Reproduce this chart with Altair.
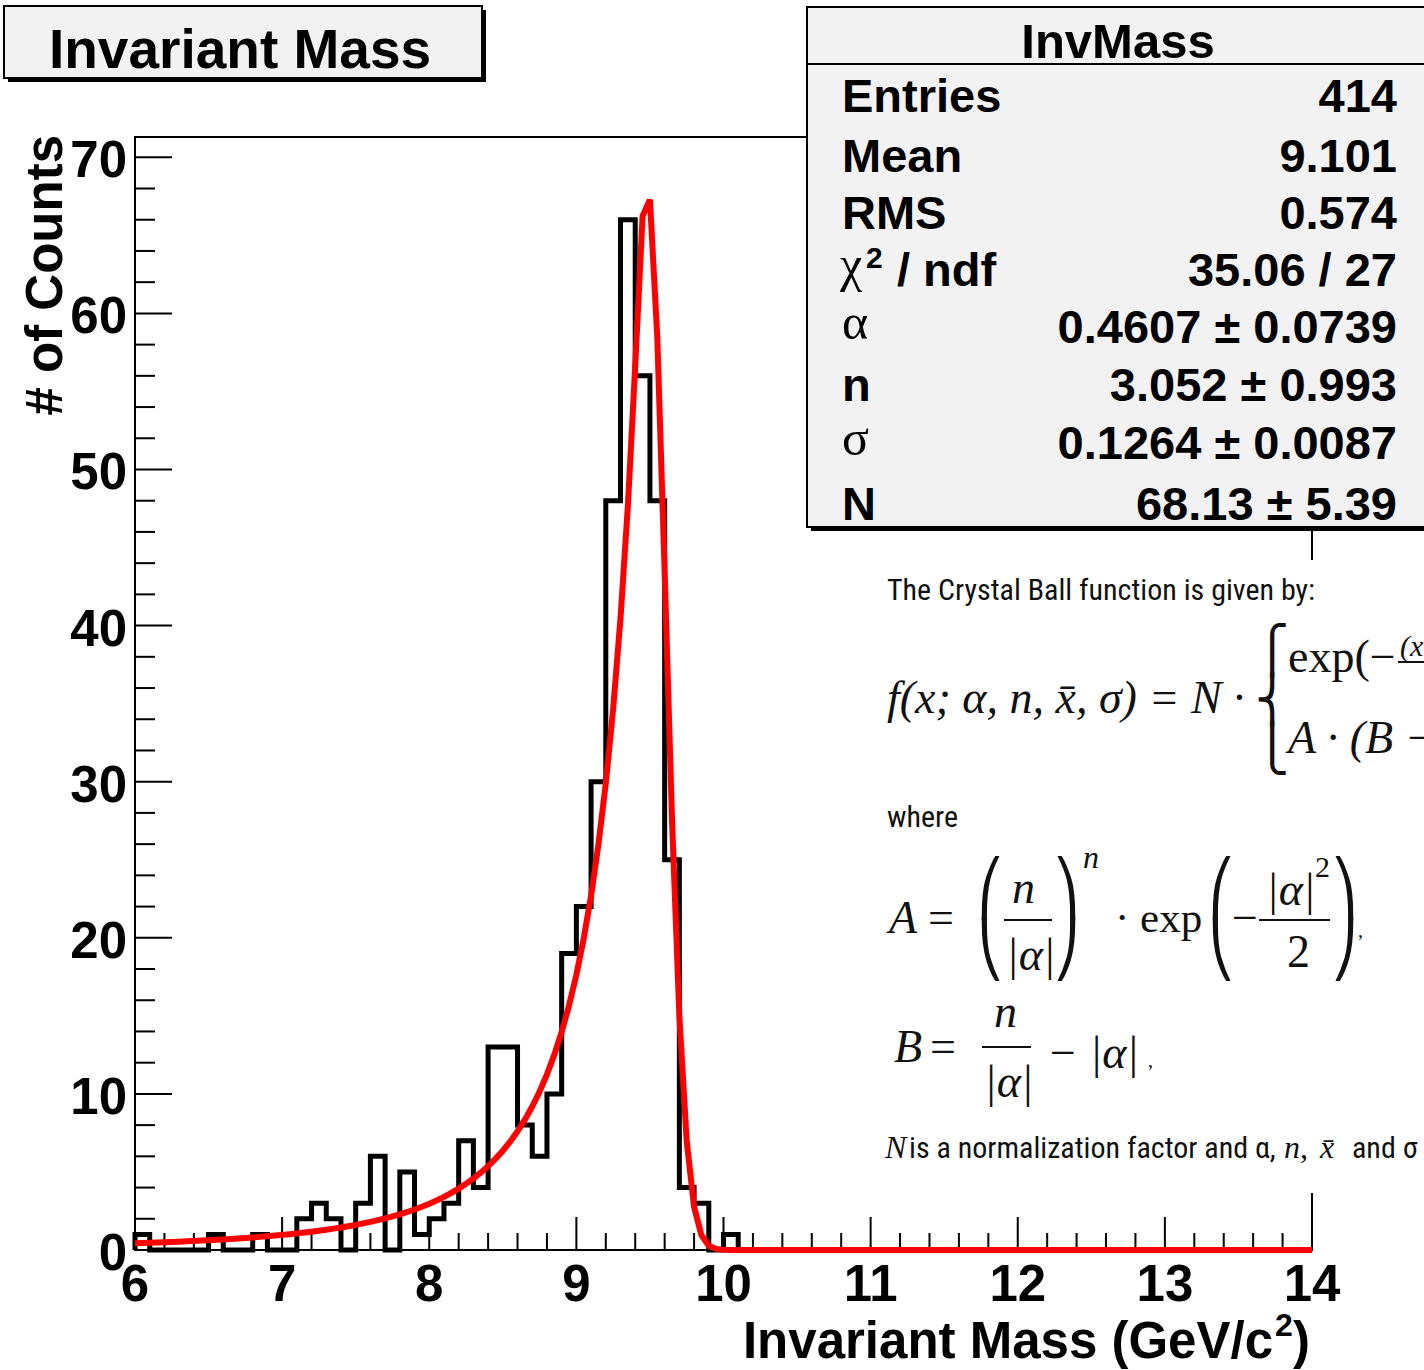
import altair as alt
import numpy as np
import pandas as pd

# ---------------------------------------------------------------- data
# Histogram of the invariant mass, 0.1 GeV/c^2 bins from 6 to 14
BIN_LOW = [round(6.0 + 0.1 * i, 1) for i in range(80)]
COUNTS = [
    1, 0, 0, 0, 0, 1, 0, 0, 1, 0,          # 6.0 - 6.9
    0, 2, 3, 2, 0, 3, 6, 0, 5, 1,          # 7.0 - 7.9
    2, 3, 7, 4, 13, 13, 8, 6, 10, 19,      # 8.0 - 8.9
    22, 30, 48, 66, 56, 48, 25, 4, 3, 0,   # 9.0 - 9.9
    1, 0, 0, 0, 0, 0, 0, 0, 0, 0,          # 10.0 - 10.9
    0, 0, 0, 0, 0, 0, 0, 0, 0, 0,          # 11.0 - 11.9
    0, 0, 0, 0, 0, 0, 0, 0, 0, 0,          # 12.0 - 12.9
    0, 0, 0, 0, 0, 0, 0, 0, 0, 0,          # 13.0 - 13.9
]
X_MAX = 14.0

# Crystal Ball fit parameters (from the fit result)
CB_ALPHA = 0.4607
CB_N = 3.052
CB_SIGMA = 0.1264
CB_NORM = 68.13
CB_MEAN = 9.48
CB_NPX = 161

# Statistics box
STAT_LABELS = ["Entries", "Mean", "RMS", "", "", "n", "", "N"]
STAT_VALUES = ["414", "9.101", "0.574", "35.06 / 27", "0.4607 \u00b1 0.0739",
               "3.052 \u00b1 0.993", "0.1264 \u00b1 0.0087", "68.13 \u00b1 5.39"]

# Axis ticks and labels
X_LABELS = list(range(6, 15))
X_MINOR = [round(6 + 0.2 * i, 1) for i in range(41) if i % 5]
Y_LABELS = list(range(0, 71, 10))
Y_MINOR = [v for v in range(2, 71, 2) if v % 10]
X_TITLE = "Invariant Mass (GeV/c"
Y_TITLE = "# of Counts"

# ---------------------------------------------------------------- layout
OX, OY = 135, 137          # page position of the plot frame's top-left corner
PW, PH = 1177, 1113        # frame size
SANS = "Liberation Sans, Arial, Helvetica, sans-serif"
SERIF = "Liberation Serif, Times New Roman, serif"
COND = "Roboto Condensed, Liberation Sans Narrow, DejaVu Sans Condensed, Liberation Sans, sans-serif"
PIECES = "DejaVu Sans"
AXIS_SIZE = 51
COND_SIZE = 30

X_SCALE = alt.Scale(domain=[6, 14], nice=False, zero=False)
Y_SCALE = alt.Scale(domain=[0, 71.3], nice=False, zero=False)

one = pd.DataFrame({"k": [0]})


def px(x):
    return x - OX


def py(y):
    return y - OY


def text(s, x, y, size, font=SANS, weight="normal", style="normal",
         align="left", baseline="alphabetic", color="black", angle=0):
    return alt.Chart(one).mark_text(
        text=s, font=font, fontSize=size, fontWeight=weight, fontStyle=style,
        align=align, baseline=baseline, color=color, angle=angle,
    ).encode(x=alt.value(px(x)), y=alt.value(py(y)))


def rect(x1, y1, x2, y2, fill, stroke=None, sw=0):
    kw = dict(fill=fill)
    if stroke:
        kw.update(stroke=stroke, strokeWidth=sw)
    return alt.Chart(one).mark_rect(**kw).encode(
        x=alt.value(px(x1)), x2=alt.value(px(x2)),
        y=alt.value(py(y1)), y2=alt.value(py(y2)))


def hline(x1, x2, y, sw=2, color="black"):
    return alt.Chart(one).mark_rule(color=color, strokeWidth=sw).encode(
        x=alt.value(px(x1)), x2=alt.value(px(x2)), y=alt.value(py(y)))


# ---------------------------------------------------------------- histogram
hist_x = [BIN_LOW[0]] + BIN_LOW + [X_MAX]
hist_y = [0] + COUNTS + [COUNTS[-1]]
hist_df = pd.DataFrame({"mass": hist_x, "count": hist_y, "order": range(len(hist_x))})

hist = alt.Chart(hist_df).mark_line(
    interpolate="step-after", color="black", strokeWidth=5, strokeJoin="miter"
).encode(
    x=alt.X("mass:Q", scale=X_SCALE, axis=None),
    y=alt.Y("count:Q", scale=Y_SCALE, axis=None),
    order="order:Q",
)

# ---------------------------------------------------------------- fit curve
cb_a = (CB_N / abs(CB_ALPHA)) ** CB_N * np.exp(-CB_ALPHA ** 2 / 2)
cb_b = CB_N / abs(CB_ALPHA) - abs(CB_ALPHA)
fx = np.linspace(6.0, X_MAX, CB_NPX)
ft = (fx - CB_MEAN) / CB_SIGMA
fy = np.where(ft > -CB_ALPHA, np.exp(-ft ** 2 / 2),
              cb_a * np.power(np.abs(cb_b - ft), -CB_N))
fit_df = pd.DataFrame({"mass": fx, "count": CB_NORM * fy})

fit = alt.Chart(fit_df).mark_line(color="#ff0000", strokeWidth=6).encode(
    x=alt.X("mass:Q", scale=X_SCALE, axis=None),
    y=alt.Y("count:Q", scale=Y_SCALE, axis=None),
)

# ---------------------------------------------------------------- axes: ticks inside the frame, labels, titles
def yticks(vals, length):
    return alt.Chart(pd.DataFrame({"v": vals})).mark_rule(color="black", strokeWidth=2).encode(
        y=alt.Y("v:Q", scale=Y_SCALE, axis=None), x=alt.value(0), x2=alt.value(length))


def xticks(vals, length):
    return alt.Chart(pd.DataFrame({"v": vals})).mark_rule(color="black", strokeWidth=2).encode(
        x=alt.X("v:Q", scale=X_SCALE, axis=None), y=alt.value(PH), y2=alt.value(PH - length))


ticks = [yticks(Y_LABELS, 37), yticks(Y_MINOR, 20), xticks(X_LABELS, 33), xticks(X_MINOR, 17)]

y_labels = alt.Chart(pd.DataFrame({"v": Y_LABELS, "lab": [str(v) for v in Y_LABELS]})).mark_text(
    font=SANS, fontWeight="bold", fontSize=AXIS_SIZE, align="right", baseline="middle",
    color="black", dy=5,
).encode(y=alt.Y("v:Q", scale=Y_SCALE, axis=None), x=alt.value(-8), text="lab:N")

x_labels = alt.Chart(pd.DataFrame({"v": X_LABELS, "lab": [str(v) for v in X_LABELS]})).mark_text(
    font=SANS, fontWeight="bold", fontSize=AXIS_SIZE, align="center", baseline="alphabetic",
    color="black",
).encode(x=alt.X("v:Q", scale=X_SCALE, axis=None), y=alt.value(PH + 51), text="lab:N")

titles = [
    text(X_TITLE, 1273, 1358, AXIS_SIZE, weight="bold", align="right"),
    text("2", 1275, 1336, 32, weight="bold"),
    text(")", 1293, 1358, AXIS_SIZE, weight="bold"),
    text(Y_TITLE, 62, 135, AXIS_SIZE, weight="bold", align="right", angle=270),
]

# ---------------------------------------------------------------- formula panel
panel = [rect(860, 560, 1424, 1193, "white")]
ink = "#111111"
panel += [
    text("The Crystal Ball function is given by:", 887, 600, COND_SIZE, font=COND, color=ink),
    text("f(x; \u03b1, n, x\u0304, \u03c3) = N \u00b7", 887, 713, 46, font=SERIF, style="italic", color=ink),
    text("\u23a7", 1255, 652, 46, font=PIECES, baseline="middle", color=ink),
    text("\u23a8", 1255, 701, 46, font=PIECES, baseline="middle", color=ink),
    text("\u23a9", 1255, 750, 46, font=PIECES, baseline="middle", color=ink),
    text("exp(\u2212", 1288, 672, 46, font=SERIF, color=ink),
    text("(x \u2212 x\u0304)\u00b2", 1400, 656, 30, font=SERIF, style="italic", color=ink),
    hline(1398, 1430, 662, 2, ink),
    text("A \u00b7 (B \u2212", 1288, 753, 46, font=SERIF, style="italic", color=ink),
    text("where", 887, 827, COND_SIZE, font=COND, color=ink),
    # A = (n/|a|)^n * exp(-|a|^2/2)
    text("A", 889, 933, 46, font=SERIF, style="italic", color=ink),
    text("=", 928, 933, 46, font=SERIF, color=ink),
    text("\u239b", 977, 891, 54, font=PIECES, baseline="middle", color=ink),
    text("\u239d", 977, 952, 54, font=PIECES, baseline="middle", color=ink),
    text("n", 1012, 903, 46, font=SERIF, style="italic", color=ink),
    hline(1004, 1052, 920, 2, ink),
    text("|\u03b1|", 1006, 970, 46, font=SERIF, style="italic", color=ink),
    text("\u239e", 1053, 891, 54, font=PIECES, baseline="middle", color=ink),
    text("\u23a0", 1053, 952, 54, font=PIECES, baseline="middle", color=ink),
    text("n", 1083, 868, 32, font=SERIF, style="italic", color=ink),
    text("\u00b7 exp", 1115, 932, 43, font=SERIF, color=ink),
    text("\u239b", 1208, 891, 54, font=PIECES, baseline="middle", color=ink),
    text("\u239d", 1208, 952, 54, font=PIECES, baseline="middle", color=ink),
    text("\u2212", 1232, 933, 46, font=SERIF, color=ink),
    text("|\u03b1|", 1266, 905, 46, font=SERIF, style="italic", color=ink),
    text("2", 1315, 877, 30, font=SERIF, color=ink),
    hline(1259, 1330, 920, 2, ink),
    text("2", 1287, 967, 46, font=SERIF, color=ink),
    text("\u239e", 1331, 891, 54, font=PIECES, baseline="middle", color=ink),
    text("\u23a0", 1331, 952, 54, font=PIECES, baseline="middle", color=ink),
    text(",", 1358, 937, 20, font=SERIF, color=ink),
    # B = n/|a| - |a|
    text("B", 894, 1062, 46, font=SERIF, style="italic", color=ink),
    text("=", 930, 1062, 46, font=SERIF, color=ink),
    text("n", 994, 1027, 46, font=SERIF, style="italic", color=ink),
    hline(982, 1031, 1047, 2, ink),
    text("|\u03b1|", 984, 1097, 46, font=SERIF, style="italic", color=ink),
    text("\u2212 |\u03b1|", 1047, 1068, 46, font=SERIF, style="italic", color=ink),
    text(",", 1148, 1067, 20, font=SERIF, color=ink),
    # closing sentence
    text("N", 885, 1158, 32, font=SERIF, style="italic", color=ink),
    text("is a normalization factor and \u03b1,", 909, 1158, COND_SIZE, font=COND, color=ink),
    text("n,", 1284, 1158, 32, font=SERIF, style="italic", color=ink),
    text("x\u0304", 1320, 1158, 32, font=SERIF, style="italic", color=ink),
    text("and \u03c3", 1352, 1158, COND_SIZE, font=COND, color=ink),
]

# ---------------------------------------------------------------- statistics box
BOX_FILL = "#f2f2f2"
stats = [
    rect(811, 11, 1440, 531, "black"),
    rect(807, 7, 1436, 527, BOX_FILL, "black", 2),
    hline(807, 1436, 64, 2),
    text("InvMass", 1118, 58, 49, weight="bold", align="center"),
]
row_base = [112, 172, 229, 286, 343, 401, 459, 520]
for lab, val, yb in zip(STAT_LABELS, STAT_VALUES, row_base):
    if lab:
        stats.append(text(lab, 842, yb, 47, weight="bold"))
    stats.append(text(val, 1397, yb, 47, weight="bold", align="right"))
stats += [
    text("\u03c7", 840, 281, 50, font=SERIF),
    text("2", 866, 268, 30, weight="bold"),
    text("/ ndf", 897, 286, 47, weight="bold"),
    text("\u03b1", 842, 339, 50, font=SERIF),
    text("\u03c3", 842, 455, 50, font=SERIF),
]

# ---------------------------------------------------------------- title box
title_box = [
    rect(8, 10, 486, 82, "black"),
    rect(4, 6, 482, 78, BOX_FILL, "black", 2),
    text("Invariant Mass", 240, 68, 55, weight="bold", align="center"),
]

chart = alt.layer(
    hist, *ticks, fit, y_labels, x_labels, *titles, *panel, *stats, *title_box
).properties(
    width=PW, height=PH,
    padding={"left": OX, "top": OY, "right": 1424 - OX - PW, "bottom": 1370 - OY - PH},
    autosize=alt.AutoSizeParams(type="none"),
    background="white",
).configure_view(stroke="black", strokeWidth=2)

chart.save("out.html", embed_options={"renderer": "svg", "actions": False})
